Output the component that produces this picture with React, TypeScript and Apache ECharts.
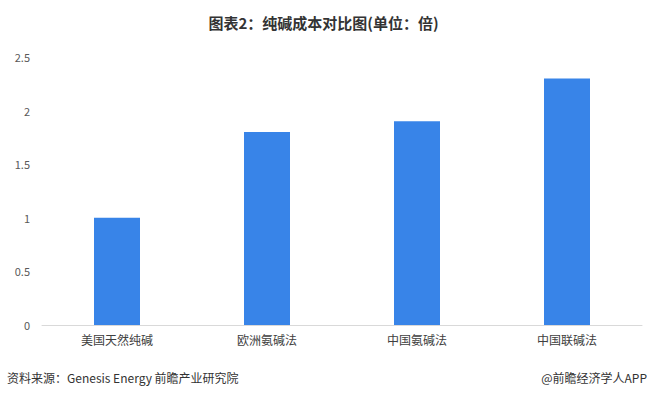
import React, { useEffect, useRef } from "react";
import * as echarts from "echarts";

const categories = ["美国天然纯碱", "欧洲氨碱法", "中国氨碱法", "中国联碱法"];
const values = [1, 1.8, 1.9, 2.3];

export default function App() {
  const ref = useRef<HTMLDivElement>(null);
  useEffect(() => {
    const chart = echarts.init(ref.current!, null, { renderer: "svg" });
    chart.setOption({
      animation: false,
      backgroundColor: "#ffffff",
      title: {
        text: "图表2：纯碱成本对比图(单位：倍)",
        left: "center",
        top: 10,
        textStyle: { fontSize: 15, fontWeight: "bold", color: "#333", fontFamily: "Noto Sans CJK SC" },
      },
      grid: { left: 42, right: 5, top: 57, bottom: 76 },
      xAxis: {
        type: "category",
        data: categories,
        axisLine: { lineStyle: { color: "#d9d9d9" } },
        axisTick: { show: false },
        axisLabel: { color: "#404040", fontSize: 12, margin: 8, fontFamily: "Noto Sans CJK SC" },
      },
      yAxis: {
        type: "value",
        min: 0,
        max: 2.5,
        interval: 0.5,
        splitLine: { show: false },
        axisLine: { show: false },
        axisTick: { show: false },
        axisLabel: { color: "#595959", fontSize: 11, margin: 12, fontFamily: "Noto Sans CJK SC" },
      },
      series: [
        {
          type: "bar",
          data: values,
          barWidth: 46,
          itemStyle: { color: "#3884e8" },
        },
      ],
      graphic: [
        {
          type: "text",
          left: 7,
          top: 371,
          style: { text: "资料来源：Genesis Energy 前瞻产业研究院", fontSize: 12, fill: "#333", fontFamily: "Noto Sans CJK SC" },
        },
        {
          type: "text",
          right: 0,
          top: 371,
          style: { text: "@前瞻经济学人APP", fontSize: 12, fill: "#333", fontFamily: "Noto Sans CJK SC" },
        },
      ],
    });
    return () => chart.dispose();
  }, []);
  return <div ref={ref} style={{ width: 647, height: 401, position: "absolute", left: 0, top: 0 }} />;
}
